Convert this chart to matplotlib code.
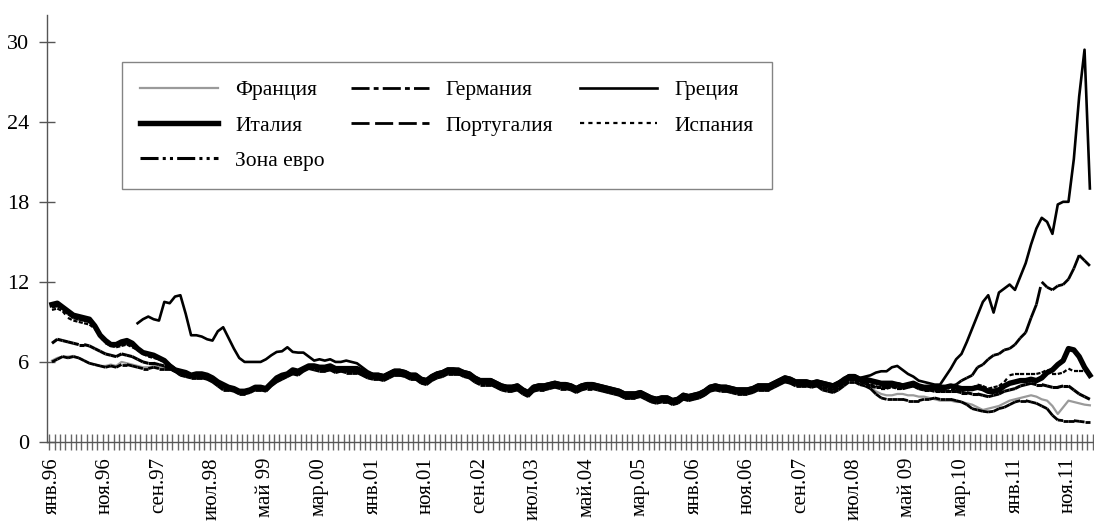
import numpy as np
import matplotlib.pyplot as plt
from matplotlib.collections import LineCollection
from matplotlib.lines import Line2D

plt.rcParams['font.family'] = ['Liberation Serif', 'DejaVu Serif']
plt.rcParams['lines.scale_dashes'] = False

nan = np.nan

# monthly values, Jan 1996 .. Mar 2012 (one row per year)
france = [
    6.1, 6.3, 6.4, 6.4, 6.45, 6.3, 6.1, 5.9, 5.8, 5.7, 5.7, 5.8,
    5.7, 6.0, 5.9, 5.8, 5.7, 5.6, 5.6, 5.7, 5.6, 5.5, 5.6, 5.4,
    5.0, 4.9, 4.8, 4.8, 4.9, 4.7, 4.5, 4.2, 4.0, 3.9, 3.8, 3.6,
    3.6, 3.7, 3.9, 3.9, 3.8, 4.2, 4.5, 4.7, 4.9, 5.1, 5.1, 5.3,
    5.5, 5.5, 5.4, 5.3, 5.4, 5.2, 5.3, 5.2, 5.2, 5.2, 5.0, 4.8,
    4.7, 4.7, 4.6, 4.8, 5.0, 5.0, 4.9, 4.7, 4.7, 4.4, 4.3, 4.6,
    4.8, 4.9, 5.1, 5.1, 5.1, 4.9, 4.8, 4.5, 4.3, 4.3, 4.3, 4.1,
    3.9, 3.8, 3.8, 3.9, 3.6, 3.4, 3.8, 3.9, 3.9, 4.0, 4.1, 4.0,
    4.0, 3.9, 3.7, 3.9, 4.0, 4.0, 3.9, 3.8, 3.7, 3.6, 3.5, 3.3,
    3.3, 3.3, 3.4, 3.2, 3.0, 2.9, 3.0, 3.0, 2.8, 2.9, 3.2, 3.1,
    3.2, 3.3, 3.5, 3.8, 3.9, 3.8, 3.8, 3.7, 3.6, 3.6, 3.6, 3.7,
    3.9, 3.9, 3.9, 4.1, 4.3, 4.5, 4.4, 4.2, 4.2, 4.2, 4.1, 4.2,
    4.0, 3.9, 3.8, 4.0, 4.3, 4.6, 4.6, 4.4, 4.4, 4.1, 3.8, 3.6,
    3.5, 3.5, 3.6, 3.6, 3.5, 3.5, 3.4, 3.4, 3.3, 3.2, 3.1, 3.1,
    3.1, 3.0, 3.0, 2.9, 2.8, 2.6, 2.4, 2.5, 2.6, 2.7, 2.9, 3.1,
    3.2, 3.3, 3.4, 3.5, 3.4, 3.2, 3.1, 2.7, 2.1, 2.6, 3.1, 3.0,
    2.9, 2.8, 2.75,
]

germany = [
    6.0, 6.2, 6.4, 6.3, 6.4, 6.3, 6.1, 5.9, 5.8, 5.7, 5.6, 5.7,
    5.6, 5.8, 5.8, 5.7, 5.6, 5.5, 5.5, 5.6, 5.5, 5.5, 5.5, 5.3,
    5.0, 4.9, 4.8, 4.8, 4.8, 4.7, 4.5, 4.2, 3.9, 3.9, 3.8, 3.6,
    3.6, 3.7, 3.9, 3.9, 3.8, 4.2, 4.5, 4.7, 4.9, 5.1, 5.0, 5.3,
    5.5, 5.4, 5.3, 5.3, 5.4, 5.2, 5.3, 5.2, 5.2, 5.2, 5.0, 4.8,
    4.7, 4.7, 4.6, 4.8, 5.0, 5.0, 4.9, 4.7, 4.7, 4.4, 4.3, 4.6,
    4.8, 4.9, 5.1, 5.1, 5.1, 4.9, 4.8, 4.5, 4.3, 4.3, 4.3, 4.1,
    3.9, 3.8, 3.8, 3.9, 3.6, 3.4, 3.8, 3.9, 3.9, 4.0, 4.1, 4.0,
    4.0, 3.9, 3.7, 3.9, 4.0, 4.0, 3.9, 3.8, 3.7, 3.6, 3.5, 3.3,
    3.3, 3.3, 3.4, 3.2, 3.0, 2.9, 3.0, 3.0, 2.8, 2.9, 3.2, 3.1,
    3.2, 3.3, 3.5, 3.8, 3.9, 3.8, 3.8, 3.7, 3.6, 3.6, 3.6, 3.7,
    3.9, 3.9, 3.9, 4.1, 4.3, 4.5, 4.4, 4.2, 4.2, 4.2, 4.1, 4.2,
    3.9, 3.8, 3.7, 3.9, 4.2, 4.5, 4.5, 4.3, 4.2, 4.0, 3.6, 3.3,
    3.2, 3.2, 3.2, 3.2, 3.1, 3.1, 3.1, 3.2, 3.2, 3.3, 3.2, 3.2,
    3.2, 3.1, 3.0, 2.8, 2.5, 2.4, 2.3, 2.25, 2.3, 2.5, 2.6, 2.8,
    3.0, 3.1, 3.1, 3.0, 2.9, 2.7, 2.5, 2.0, 1.65, 1.6, 1.6, 1.6,
    1.55, 1.5, 1.5,
]

greece = [
    nan, nan, nan, nan, nan, nan, nan, nan, nan, nan, nan, nan,
    nan, nan, nan, nan, 8.9, 9.2, 9.4, 9.2, 9.1, 10.5, 10.4, 10.9,
    11.0, 9.6, 8.0, 8.0, 7.9, 7.7, 7.6, 8.3, 8.6, 7.8, 7.0, 6.3,
    6.0, 6.0, 6.0, 6.0, 6.2, 6.5, 6.75, 6.8, 7.1, 6.75, 6.7, 6.7,
    6.4, 6.1, 6.2, 6.1, 6.2, 6.0, 6.0, 6.1, 6.0, 5.9, 5.6, 5.3,
    5.1, 5.1, 5.0, 5.2, 5.4, 5.4, 5.3, 5.1, 5.1, 4.8, 4.7, 5.0,
    5.2, 5.3, 5.5, 5.5, 5.5, 5.3, 5.2, 4.9, 4.7, 4.7, 4.7, 4.5,
    4.3, 4.2, 4.2, 4.3, 4.0, 3.8, 4.2, 4.3, 4.3, 4.4, 4.5, 4.4,
    4.4, 4.3, 4.1, 4.3, 4.4, 4.4, 4.3, 4.2, 4.1, 4.0, 3.9, 3.7,
    3.7, 3.7, 3.8, 3.6, 3.4, 3.3, 3.4, 3.4, 3.2, 3.3, 3.6, 3.5,
    3.6, 3.7, 3.9, 4.2, 4.3, 4.2, 4.2, 4.1, 4.0, 4.0, 4.0, 4.1,
    4.3, 4.3, 4.3, 4.5, 4.7, 4.9, 4.8, 4.6, 4.6, 4.6, 4.5, 4.6,
    4.5, 4.4, 4.3, 4.5, 4.8, 5.0, 5.0, 4.8, 4.9, 5.0, 5.2, 5.3,
    5.3, 5.6, 5.7, 5.4, 5.1, 4.9, 4.6, 4.5, 4.4, 4.3, 4.3, 4.9,
    5.5, 6.2, 6.6, 7.5, 8.5, 9.5, 10.5, 11.0, 9.7, 11.2, 11.5, 11.8,
    11.4, 12.4, 13.4, 14.8, 16.0, 16.8, 16.5, 15.6, 17.8, 18.0, 18.0, 21.2,
    25.9, 29.4, 19.0,
]

italy = [
    10.3, 10.4, 10.1, 9.8, 9.5, 9.4, 9.3, 9.2, 8.7, 8.0, 7.6, 7.3,
    7.3, 7.5, 7.6, 7.4, 7.0, 6.7, 6.6, 6.5, 6.3, 6.1, 5.7, 5.4,
    5.3, 5.2, 5.0, 5.1, 5.1, 5.0, 4.8, 4.5, 4.3, 4.1, 4.0, 3.8,
    3.8, 3.9, 4.1, 4.1, 4.0, 4.4, 4.8, 5.0, 5.1, 5.4, 5.3, 5.5,
    5.7, 5.7, 5.6, 5.6, 5.7, 5.5, 5.5, 5.5, 5.5, 5.5, 5.3, 5.1,
    5.0, 5.0, 4.9, 5.1, 5.3, 5.3, 5.2, 5.0, 5.0, 4.7, 4.6, 4.9,
    5.1, 5.2, 5.4, 5.4, 5.3, 5.2, 5.1, 4.8, 4.6, 4.6, 4.6, 4.4,
    4.2, 4.1, 4.1, 4.2, 3.9, 3.7, 4.1, 4.2, 4.2, 4.3, 4.4, 4.3,
    4.3, 4.2, 4.0, 4.2, 4.3, 4.3, 4.2, 4.1, 4.0, 3.9, 3.8, 3.6,
    3.6, 3.6, 3.7, 3.5, 3.3, 3.2, 3.3, 3.3, 3.1, 3.2, 3.5, 3.4,
    3.5, 3.6, 3.8, 4.1, 4.2, 4.1, 4.1, 4.0, 3.9, 3.9, 3.9, 4.0,
    4.2, 4.2, 4.2, 4.4, 4.6, 4.8, 4.7, 4.5, 4.5, 4.5, 4.4, 4.5,
    4.4, 4.3, 4.2, 4.4, 4.6, 4.9, 4.9, 4.7, 4.7, 4.6, 4.5, 4.4,
    4.4, 4.4, 4.3, 4.2, 4.3, 4.4, 4.2, 4.1, 4.1, 4.1, 4.1, 4.1,
    4.2, 4.1, 4.0, 4.0, 4.0, 4.1, 4.0, 3.8, 3.8, 3.9, 4.2, 4.4,
    4.5, 4.6, 4.6, 4.7, 4.6, 4.8, 5.2, 5.4, 5.8, 6.1, 7.0, 6.9,
    6.4, 5.6, 5.0,
]

portugal = [
    10.1, 10.2, 10.0, 9.6, 9.3, 9.2, 9.1, 9.0, 8.7, 8.1, 7.5, 7.3,
    7.2, 7.3, 7.4, 7.2, 7.0, 6.7, 6.5, 6.4, 6.2, 6.1, 5.8, 5.5,
    5.2, 5.1, 4.9, 5.0, 5.1, 4.9, 4.7, 4.4, 4.2, 4.1, 3.9, 3.8,
    3.8, 3.9, 4.1, 4.0, 4.0, 4.4, 4.7, 4.9, 5.1, 5.3, 5.2, 5.5,
    5.7, 5.7, 5.6, 5.5, 5.6, 5.4, 5.5, 5.4, 5.4, 5.4, 5.2, 5.0,
    4.9, 4.9, 4.8, 5.0, 5.2, 5.2, 5.1, 4.9, 4.9, 4.6, 4.5, 4.8,
    5.0, 5.1, 5.3, 5.3, 5.3, 5.1, 5.0, 4.7, 4.5, 4.5, 4.5, 4.3,
    4.1, 4.0, 4.0, 4.1, 3.8, 3.6, 4.0, 4.1, 4.1, 4.2, 4.3, 4.2,
    4.2, 4.1, 3.9, 4.1, 4.2, 4.2, 4.1, 4.0, 3.9, 3.8, 3.7, 3.5,
    3.5, 3.5, 3.6, 3.4, 3.2, 3.1, 3.2, 3.2, 3.0, 3.1, 3.4, 3.3,
    3.4, 3.5, 3.7, 4.0, 4.1, 4.0, 4.0, 3.9, 3.8, 3.8, 3.8, 3.9,
    4.1, 4.1, 4.1, 4.3, 4.5, 4.7, 4.6, 4.4, 4.4, 4.4, 4.3, 4.4,
    4.3, 4.2, 4.1, 4.3, 4.6, 4.8, 4.8, 4.6, 4.6, 4.5, 4.4, 4.3,
    4.3, 4.4, 4.4, 4.3, 4.3, 4.3, 4.2, 4.1, 4.1, 4.0, 4.0, 4.0,
    4.2, 4.3, 4.6, 4.8, 5.0, 5.6, 5.8, 6.2, 6.5, 6.6, 6.9, 7.0,
    7.3, 7.8, 8.2, 9.3, 10.3, 12.0, 11.6, 11.4, 11.7, 11.8, 12.2, 13.0,
    14.0, 13.6, 13.2,
]

spain = [
    9.9, 10.0, 9.8, 9.3, 9.1, 9.0, 8.9, 8.8, 8.5, 7.9, 7.4, 7.2,
    7.1, 7.2, 7.3, 7.1, 6.9, 6.6, 6.4, 6.3, 6.2, 6.0, 5.7, 5.4,
    5.1, 5.0, 4.9, 4.9, 5.0, 4.8, 4.6, 4.3, 4.1, 4.0, 3.9, 3.7,
    3.7, 3.8, 4.0, 4.0, 3.9, 4.3, 4.6, 4.8, 5.0, 5.2, 5.2, 5.4,
    5.6, 5.6, 5.5, 5.4, 5.5, 5.3, 5.4, 5.3, 5.3, 5.3, 5.1, 4.9,
    4.8, 4.8, 4.7, 4.9, 5.1, 5.1, 5.0, 4.8, 4.8, 4.5, 4.4, 4.7,
    4.9, 5.0, 5.2, 5.2, 5.2, 5.0, 4.9, 4.6, 4.4, 4.4, 4.4, 4.2,
    4.0, 3.9, 3.9, 4.0, 3.7, 3.5, 3.9, 4.0, 4.0, 4.1, 4.2, 4.1,
    4.1, 4.0, 3.8, 4.0, 4.1, 4.1, 4.0, 3.9, 3.8, 3.7, 3.6, 3.4,
    3.4, 3.4, 3.5, 3.3, 3.1, 3.0, 3.1, 3.1, 2.9, 3.0, 3.3, 3.2,
    3.3, 3.4, 3.6, 3.9, 4.0, 3.9, 3.9, 3.8, 3.7, 3.7, 3.7, 3.8,
    4.0, 4.0, 4.0, 4.2, 4.4, 4.6, 4.5, 4.3, 4.3, 4.3, 4.2, 4.3,
    4.1, 4.0, 3.9, 4.1, 4.4, 4.7, 4.7, 4.5, 4.5, 4.3, 4.2, 4.0,
    4.0, 4.1, 4.0, 4.0, 4.1, 4.2, 4.0, 3.9, 3.9, 3.8, 3.8, 3.8,
    3.9, 3.9, 3.8, 3.9, 4.0, 4.3, 4.2, 4.0, 4.1, 4.2, 4.5, 5.0,
    5.1, 5.1, 5.1, 5.1, 5.1, 5.2, 5.4, 5.1, 5.1, 5.2, 5.5, 5.3,
    5.3, 5.3, 5.4,
]

euro = [
    7.4, 7.7, 7.6, 7.5, 7.4, 7.3, 7.3, 7.2, 7.0, 6.8, 6.6, 6.5,
    6.4, 6.6, 6.5, 6.4, 6.2, 6.0, 5.9, 5.9, 5.8, 5.7, 5.5, 5.3,
    5.1, 5.0, 4.9, 4.9, 4.9, 4.8, 4.6, 4.3, 4.0, 4.0, 3.9, 3.7,
    3.7, 3.8, 4.0, 4.0, 3.9, 4.3, 4.6, 4.8, 5.0, 5.2, 5.2, 5.4,
    5.6, 5.6, 5.5, 5.4, 5.5, 5.3, 5.4, 5.3, 5.3, 5.3, 5.1, 4.9,
    4.8, 4.8, 4.7, 4.9, 5.1, 5.1, 5.0, 4.8, 4.8, 4.5, 4.4, 4.7,
    4.9, 5.0, 5.2, 5.2, 5.2, 5.0, 4.9, 4.6, 4.4, 4.4, 4.4, 4.2,
    4.0, 3.9, 3.9, 4.0, 3.7, 3.5, 3.9, 4.0, 4.0, 4.1, 4.2, 4.1,
    4.1, 4.0, 3.8, 4.0, 4.1, 4.1, 4.0, 3.9, 3.8, 3.7, 3.6, 3.4,
    3.4, 3.4, 3.5, 3.3, 3.1, 3.0, 3.1, 3.1, 2.9, 3.0, 3.3, 3.2,
    3.3, 3.4, 3.6, 3.9, 4.0, 3.9, 3.9, 3.8, 3.7, 3.7, 3.7, 3.8,
    4.0, 4.0, 4.0, 4.2, 4.4, 4.6, 4.5, 4.3, 4.3, 4.3, 4.2, 4.3,
    4.1, 4.0, 3.9, 4.1, 4.4, 4.7, 4.7, 4.5, 4.4, 4.2, 4.1, 4.1,
    4.1, 4.2, 4.1, 4.0, 4.1, 4.2, 4.0, 3.9, 3.9, 3.8, 3.8, 3.8,
    3.8, 3.8, 3.7, 3.7, 3.6, 3.6, 3.5, 3.4, 3.5, 3.6, 3.8, 3.9,
    4.0, 4.2, 4.3, 4.4, 4.3, 4.3, 4.2, 4.1, 4.1, 4.2, 4.2, 3.9,
    3.6, 3.4, 3.2,
]

tick_labels = ['янв.96', 'ноя.96', 'сен.97', 'июл.98', 'май 99', 'мар.00',
               'янв.01', 'ноя.01', 'сен.02', 'июл.03', 'май.04', 'мар.05',
               'янв.06', 'ноя.06', 'сен.07', 'июл.08', 'май 09', 'мар.10',
               'янв.11', 'ноя.11']

n = len(france)
x = np.arange(n)

# name, values, colour, width, dash pattern (None = solid)
series = [
    ('Франция', france, '#9a9a9a', 1.6, None),
    ('Германия', germany, 'black', 2.0, (13, 3, 3.5, 3)),
    ('Зона евро', euro, 'black', 2.2, (13, 3, 2.2, 3, 2.2, 3)),
    ('Испания', spain, 'black', 1.6, (3, 3)),
    ('Португалия', portugal, 'black', 2.0, (13, 4)),
    ('Италия', italy, 'black', 3.9, None),
    ('Греция', greece, 'black', 1.9, None),
]

fig = plt.figure(figsize=(10.94, 5.29), dpi=100)
ax = fig.add_axes([47 / 1094, 87 / 529, 1 - 47 / 1094, 427 / 529])

handles = {}
for name, vals, col, lw, dash in series:
    y = np.asarray(vals, dtype=float)
    if dash is None:
        ax.plot(x, y, color=col, lw=lw, solid_joinstyle='round')
    else:
        # excel restarts the dash pattern on each monthly segment
        pts = np.column_stack([x, y])
        segs = np.stack([pts[:-1], pts[1:]], axis=1)
        ok = ~np.isnan(segs).any(axis=(1, 2))
        lc = LineCollection(segs[ok], colors=col, linewidths=lw,
                            linestyles=[(0, dash)], capstyle='butt')
        ax.add_collection(lc)
    h = Line2D([], [], color=col, lw=lw)
    if dash is not None:
        h.set_dashes(dash)
    handles[name] = h

ax.set_xlim(-0.93, n - 0.23)
ax.set_ylim(0, 32)

ax.set_yticks(np.arange(0, 31, 6))
ax.tick_params(axis='y', direction='inout', length=12, width=1,
               color='#555555', labelsize=16, pad=7)

ax.set_xticks(np.arange(0, n, 10))
ax.set_xticklabels(tick_labels, rotation=90, ha='center', va='top')
ax.set_xticks(np.arange(-0.5, n, 1), minor=True)
ax.tick_params(axis='x', which='major', length=0, labelsize=15, pad=11)
ax.tick_params(axis='x', which='minor', direction='inout', length=12,
               width=1, color='#666666')

for side in ['top', 'right']:
    ax.spines[side].set_visible(False)
for side in ['left', 'bottom']:
    ax.spines[side].set_color('#555555')
    ax.spines[side].set_linewidth(1)

order = ['Франция', 'Италия', 'Зона евро', 'Германия', 'Португалия',
         'Греция', 'Испания']
leg = fig.legend([handles[k] for k in order], order, loc='upper left',
                 bbox_to_anchor=(122 / 1094, (529 - 188) / 529, 650 / 1094, 126 / 529),
                 mode='expand', ncol=3, fontsize=15.5, frameon=True,
                 fancybox=False, edgecolor='#666666', handlelength=3.6,
                 handletextpad=0.8, columnspacing=1.2, labelspacing=0.7,
                 borderpad=0.85, borderaxespad=0)
leg.get_frame().set_linewidth(1)

fig.savefig('out.png', dpi=100)
